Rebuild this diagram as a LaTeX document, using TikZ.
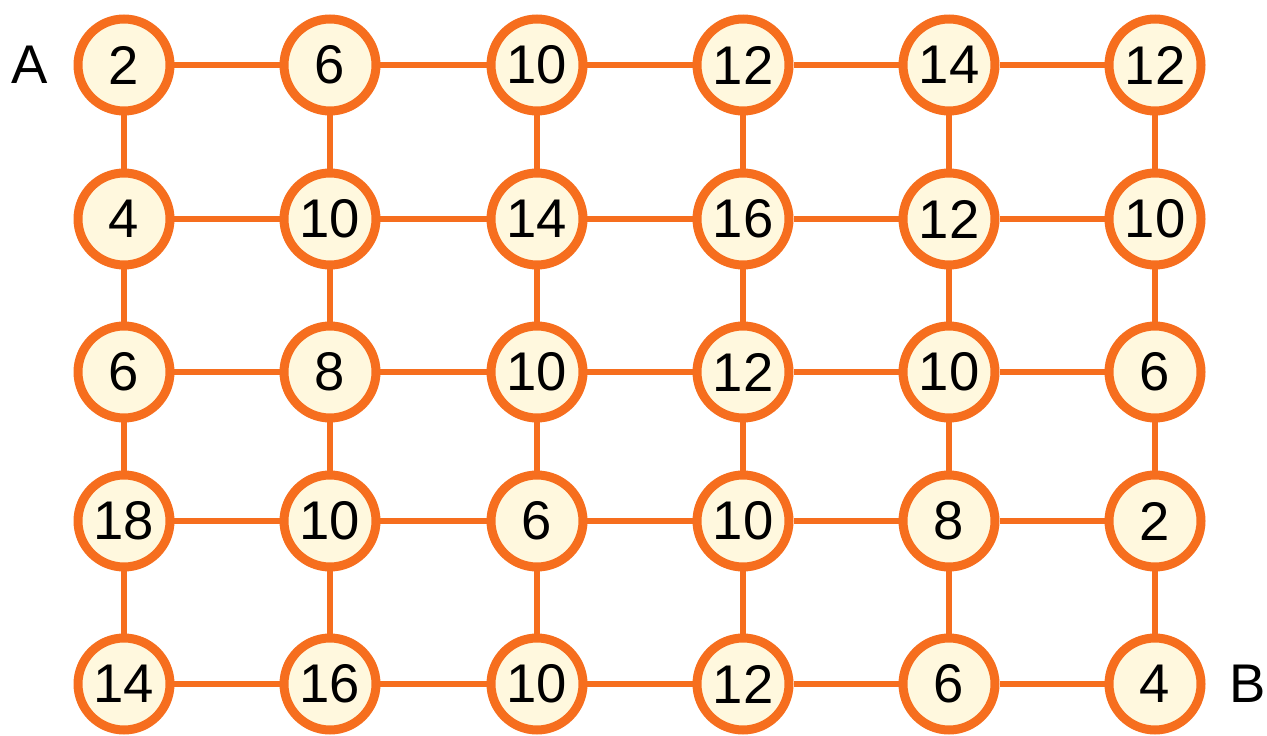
\documentclass[tikz,border=0pt]{standalone}
\usepackage{fontspec}
\setmainfont{Liberation Sans}
\usepackage{tikz}
\definecolor{tangerine}{RGB}{246,110,30}
\definecolor{cream}{RGB}{255,248,222}

\begin{document}
\begin{tikzpicture}[
  x=0.02cm,y=-0.02cm,
  font=\fontsize{31}{35}\selectfont,
  cell/.style={circle,draw=tangerine,fill=cream,line width=0.18cm,minimum size=1.84cm,inner sep=0pt},
  link/.style={tangerine,line width=0.12cm}
]
\useasboundingbox (0,0) rectangle (1267,736);
% row 1
\node[cell] (a1) at (124,65) {2};
\node[cell] (a2) at (330,65) {6};
\node[cell] (a3) at (537,65) {10};
\node[cell] (a4) at (743,65) {12};
\node[cell] (a5) at (949,65) {14};
\node[cell] (a6) at (1155,65) {12};
% row 2
\node[cell] (b1) at (124,219) {4};
\node[cell] (b2) at (330,219) {10};
\node[cell] (b3) at (537,219) {14};
\node[cell] (b4) at (743,219) {16};
\node[cell] (b5) at (949,219) {12};
\node[cell] (b6) at (1155,219) {10};
% row 3
\node[cell] (c1) at (124,372) {6};
\node[cell] (c2) at (330,372) {8};
\node[cell] (c3) at (537,372) {10};
\node[cell] (c4) at (743,372) {12};
\node[cell] (c5) at (949,372) {10};
\node[cell] (c6) at (1155,372) {6};
% row 4
\node[cell] (d1) at (124,521) {18};
\node[cell] (d2) at (330,521) {10};
\node[cell] (d3) at (537,521) {6};
\node[cell] (d4) at (743,521) {10};
\node[cell] (d5) at (949,521) {8};
\node[cell] (d6) at (1155,521) {2};
% row 5
\node[cell] (e1) at (124,684) {14};
\node[cell] (e2) at (330,684) {16};
\node[cell] (e3) at (537,684) {10};
\node[cell] (e4) at (743,684) {12};
\node[cell] (e5) at (949,684) {6};
\node[cell] (e6) at (1155,684) {4};
% start and end
\node (start) at (30,65) {A};
\node (finish) at (1248,684) {B};
% horizontal links
\draw[link] (a1) -- (a2) -- (a3) -- (a4) -- (a5) -- (a6);
\draw[link] (b1) -- (b2) -- (b3) -- (b4) -- (b5) -- (b6);
\draw[link] (c1) -- (c2) -- (c3) -- (c4) -- (c5) -- (c6);
\draw[link] (d1) -- (d2) -- (d3) -- (d4) -- (d5) -- (d6);
\draw[link] (e1) -- (e2) -- (e3) -- (e4) -- (e5) -- (e6);
% vertical links
\draw[link] (a1) -- (b1) -- (c1) -- (d1) -- (e1);
\draw[link] (a2) -- (b2) -- (c2) -- (d2) -- (e2);
\draw[link] (a3) -- (b3) -- (c3) -- (d3) -- (e3);
\draw[link] (a4) -- (b4) -- (c4) -- (d4) -- (e4);
\draw[link] (a5) -- (b5) -- (c5) -- (d5) -- (e5);
\draw[link] (a6) -- (b6) -- (c6) -- (d6) -- (e6);
\end{tikzpicture}
\end{document}
